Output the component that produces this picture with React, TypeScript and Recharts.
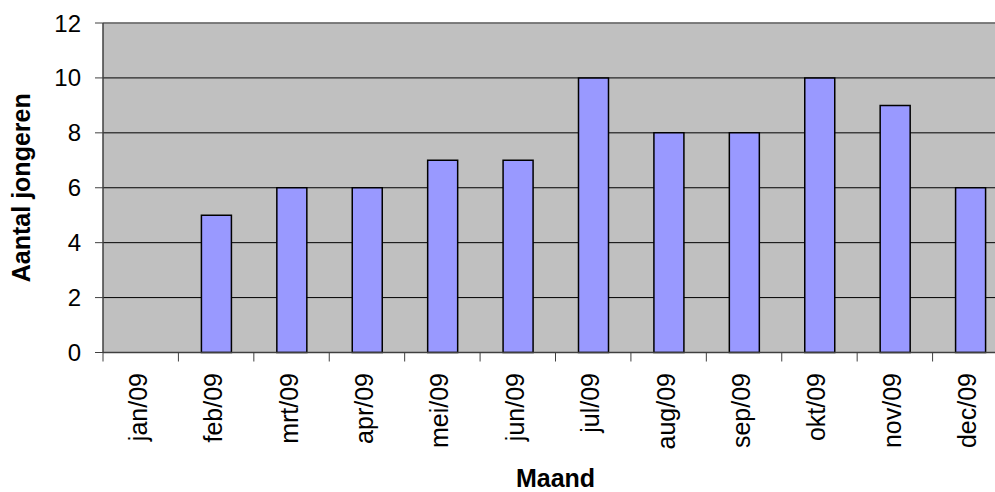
import React from "react";
import { BarChart, Bar, XAxis, YAxis, CartesianGrid, ReferenceLine, Label } from "recharts";

const MONTHS = ["jan/09", "feb/09", "mrt/09", "apr/09", "mei/09", "jun/09", "jul/09", "aug/09", "sep/09", "okt/09", "nov/09", "dec/09"];
const YOUTH_COUNT = [0, 5, 6, 6, 7, 7, 10, 8, 8, 10, 9, 6];
const Y_TICKS = [0, 2, 4, 6, 8, 10, 12];

const FONT = "'Liberation Sans', Arial, Helvetica, sans-serif";
const CHART_W = 1010;
const CHART_H = 492;
const YAXIS_W = 103;
const MARGIN = { top: 23, right: 2, left: 0, bottom: 0 };
// half of one category band, used to put the tick marks between the months
const HALF_BAND = (CHART_W - MARGIN.right - MARGIN.left - YAXIS_W) / MONTHS.length / 2;

const chartData = MONTHS.map((m, i) => ({ maand: m, aantal: YOUTH_COUNT[i] }));

const MonthTick = (props: any) => {
  const { x, y, payload } = props;
  return (
    <g>
      <line x1={x - HALF_BAND} y1={y} x2={x - HALF_BAND} y2={y + 9} stroke="#404040" strokeWidth={1} />
      <text
        transform={`translate(${x + 6},${y + 20.5}) rotate(-90)`}
        textAnchor="end"
        fontSize={25}
        fontFamily={FONT}
        fill="#000"
      >
        {payload.value}
      </text>
    </g>
  );
};

const YTitle = (props: any) => {
  const vb = props.viewBox || { x: 0, y: MARGIN.top, width: YAXIS_W, height: 330 };
  const cy = vb.y + vb.height / 2;
  return (
    <text
      transform={`translate(29.5,${cy}) rotate(-90)`}
      textAnchor="middle"
      fontSize={25}
      fontWeight="bold"
      fontFamily={FONT}
      fill="#000"
    >
      Aantal jongeren
    </text>
  );
};

const XTitle = (props: any) => {
  const vb = props.viewBox || { x: YAXIS_W, y: 352, width: 905, height: 140 };
  return (
    <text x={vb.x + vb.width / 2} y={487} textAnchor="middle" fontSize={25} fontWeight="bold" fontFamily={FONT} fill="#000">
      Maand
    </text>
  );
};

export default function App() {
  return (
    <div
      style={{
        position: "absolute",
        left: 0,
        top: 0,
        width: 995,
        height: 492,
        overflow: "hidden",
        background: "#fff",
        fontFamily: FONT,
      }}
    >
      <BarChart width={CHART_W} height={CHART_H} data={chartData} margin={MARGIN} barSize={30}>
        <CartesianGrid vertical={false} fill="#C0C0C0" stroke="#000" strokeOpacity={1} strokeWidth={1} />
        <XAxis
          dataKey="maand"
          height={139.5}
          interval={0}
          tickLine={false}
          tickSize={0}
          tickMargin={0}
          axisLine={{ stroke: "#404040", strokeWidth: 1.5 }}
          tick={<MonthTick />}
        >
          <Label content={<XTitle />} />
        </XAxis>
        <YAxis
          domain={[0, 12]}
          ticks={Y_TICKS}
          interval={0}
          width={YAXIS_W}
          tickSize={8}
          tickMargin={14}
          axisLine={{ stroke: "#404040", strokeWidth: 1.5 }}
          tickLine={{ stroke: "#404040", strokeWidth: 1 }}
          tick={{ fill: "#000", fontSize: 24, fontFamily: FONT }}
        >
          <Label content={<YTitle />} />
        </YAxis>
        <ReferenceLine y={12} stroke="#808080" strokeWidth={1.5} />
        <Bar dataKey="aantal" fill="#9999FF" stroke="#000" strokeWidth={1.5} isAnimationActive={false} />
      </BarChart>
    </div>
  );
}
